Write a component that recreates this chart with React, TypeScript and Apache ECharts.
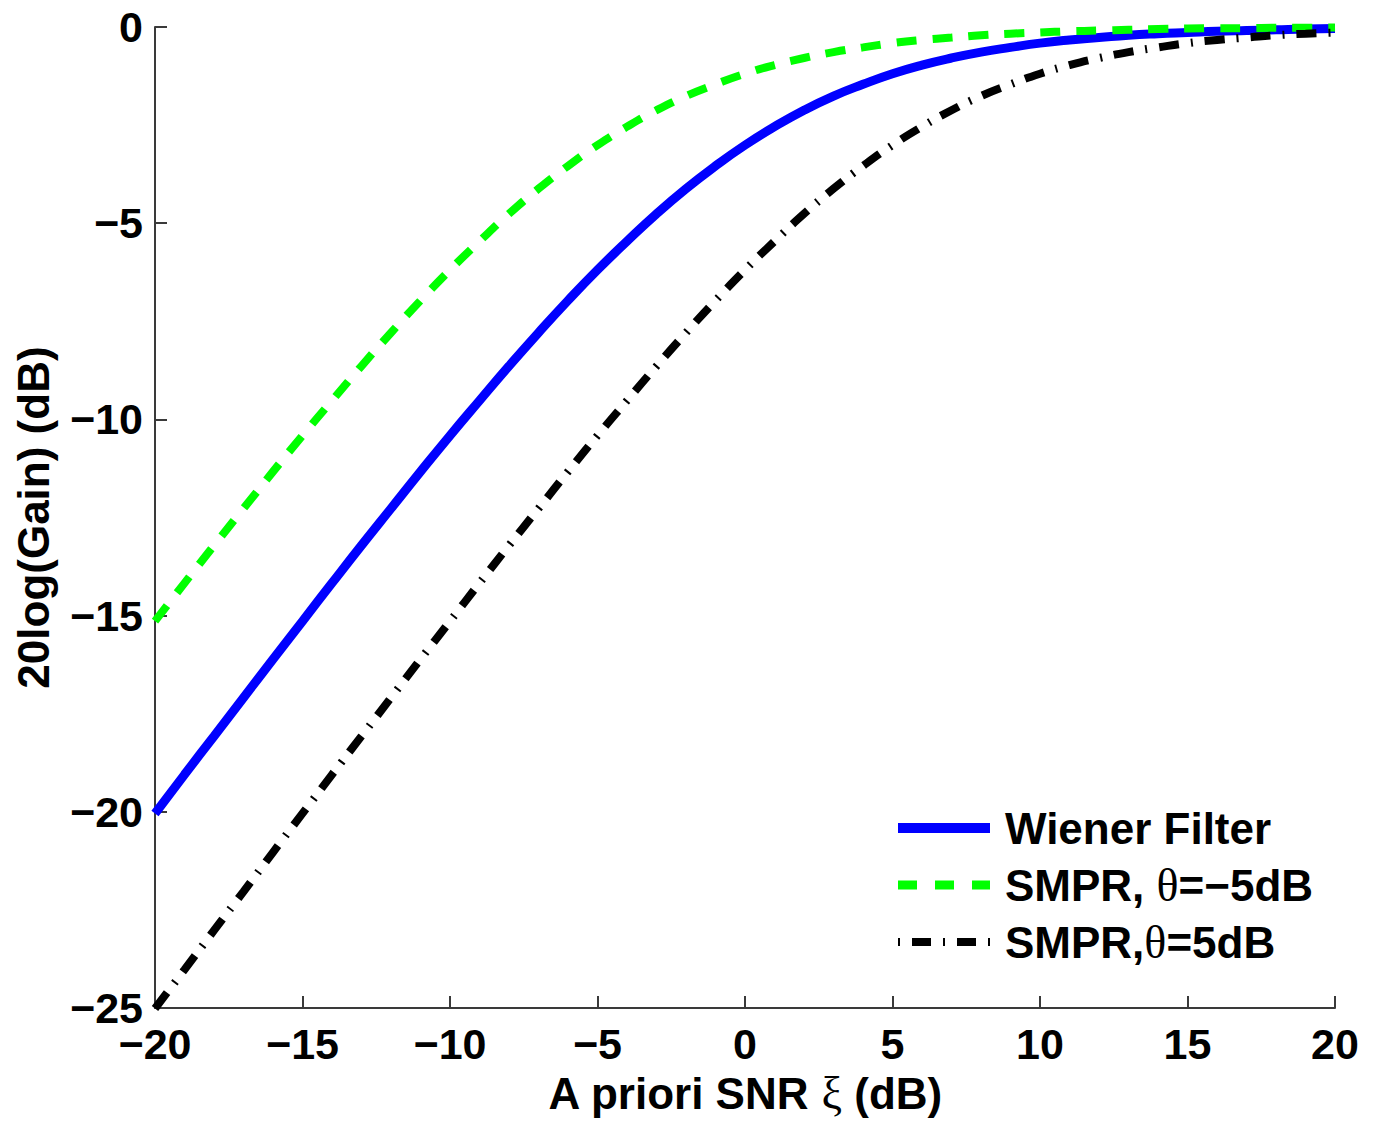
import React, { useEffect, useRef } from "react";
import * as echarts from "echarts";

const snrDb = [-20,-19,-18,-17,-16,-15,-14,-13,-12,-11,-10,-9,-8,-7,-6,-5,-4,-3,-2,-1,0,1,2,3,4,5,6,7,8,9,10,11,12,13,14,15,16,17,18,19,20];
const wiener = [-20.04,-19.05,-18.07,-17.09,-16.11,-15.14,-14.17,-13.21,-12.27,-11.33,-10.41,-9.52,-8.64,-7.79,-6.97,-6.19,-5.46,-4.76,-4.12,-3.54,-3.01,-2.54,-2.12,-1.76,-1.46,-1.19,-0.97,-0.79,-0.64,-0.52,-0.41,-0.33,-0.27,-0.21,-0.17,-0.14,-0.11,-0.09,-0.07,-0.05,-0.04];
const smprNeg5 = [-15.14,-14.17,-13.21,-12.27,-11.33,-10.41,-9.52,-8.64,-7.79,-6.97,-6.19,-5.46,-4.76,-4.12,-3.54,-3.01,-2.54,-2.12,-1.76,-1.46,-1.19,-0.97,-0.79,-0.64,-0.52,-0.41,-0.33,-0.27,-0.21,-0.17,-0.14,-0.11,-0.09,-0.07,-0.05,-0.04,-0.03,-0.03,-0.02,-0.02,-0.01];
const smprPos5 = [-25.01,-24.02,-23.02,-22.03,-21.03,-20.04,-19.05,-18.07,-17.09,-16.11,-15.14,-14.17,-13.21,-12.27,-11.33,-10.41,-9.52,-8.64,-7.79,-6.97,-6.19,-5.46,-4.76,-4.12,-3.54,-3.01,-2.54,-2.12,-1.76,-1.46,-1.19,-0.97,-0.79,-0.64,-0.52,-0.41,-0.33,-0.27,-0.21,-0.17,-0.14];
const seriesNames = ["Wiener Filter", "SMPR, θ=−5dB", "SMPR,θ=5dB"];
const xTitle = "A priori SNR {g|ξ} (dB)";
const yTitle = "20log(Gain) (dB)";

const FONT = "'Liberation Sans', Arial, sans-serif";
const SERIF = "'Liberation Serif', 'DejaVu Serif', serif";

const seriesStyles = [
  { color: "#0000ff", width: 9, type: "solid" as any, legendDash: null as number[] | null, legendWidth: 10 },
  { color: "#00ff00", width: 8, type: [20, 16], legendDash: [19, 18], legendWidth: 9 },
  { color: "#000000", width: 8, type: [20, 12, 2, 12], legendDash: [2, 12, 19, 12], legendWidth: 8 },
];

export default function App() {
  const ref = useRef<HTMLDivElement>(null);
  useEffect(() => {
    if (!ref.current) return;
    const chart = echarts.init(ref.current, undefined, { renderer: "svg" });
    const pairs = (ys: number[]) => snrDb.map((x, i) => [x, ys[i]]);
    const minus = (v: number) => String(v).replace("-", "\u2212");
    const axisLine = { show: true, onZero: false, lineStyle: { color: "#3a3a3a", width: 2 } };
    const axisTick = { show: true, inside: true, length: 12, lineStyle: { color: "#3a3a3a", width: 2 } };
    const labelStyle = { color: "#000", fontFamily: FONT, fontWeight: "bold" as const, fontSize: 43 };

    const legendX = 898;
    const legendY0 = 828;
    const legendStep = 57;
    const legendGraphics: any[] = [];
    seriesNames.forEach((name, i) => {
      const st = seriesStyles[i];
      const y = legendY0 + i * legendStep;
      legendGraphics.push({
        type: "line",
        shape: { x1: legendX, y1: y, x2: legendX + 92, y2: y },
        style: {
          stroke: st.color,
          lineWidth: st.legendWidth,
          lineDash: st.legendDash || undefined,
          lineCap: "butt",
        },
        z: 10,
      });
      legendGraphics.push({
        type: "text",
        left: legendX + 107,
        top: y - 26,
        style: {
          text: name.replace("θ", "{t|θ}"),
          fill: "#000",
          font: `bold 44px ${FONT}`,
          fontFamily: FONT,
          fontWeight: "bold",
          fontSize: 44,
          lineHeight: 52,
          rich: { t: { fontFamily: SERIF, fontWeight: "normal", fontSize: 46, fill: "#000" } },
        },
        z: 10,
      });
    });

    chart.setOption({
      animation: false,
      backgroundColor: "#fff",
      grid: { left: 155, top: 27, right: 43, bottom: 111, containLabel: false },
      xAxis: {
        type: "value",
        min: -20,
        max: 20,
        interval: 5,
        axisLine,
        axisTick,
        splitLine: { show: false },
        axisLabel: { ...labelStyle, margin: 14, formatter: minus, showMinLabel: true, showMaxLabel: true },
        name: xTitle,
        nameLocation: "middle",
        nameGap: 58,
        nameTextStyle: {
          ...labelStyle,
          fontSize: 44,
          rich: { g: { fontFamily: SERIF, fontWeight: "normal", fontSize: 46, color: "#000" } },
        },
      },
      yAxis: {
        type: "value",
        min: -25,
        max: 0,
        interval: 5,
        axisLine,
        axisTick,
        splitLine: { show: false },
        axisLabel: { ...labelStyle, margin: 12, formatter: minus, showMinLabel: true, showMaxLabel: true },
        name: yTitle,
        nameLocation: "middle",
        nameGap: 100,
        nameRotate: 90,
        nameTextStyle: { ...labelStyle, fontSize: 44 },
      },
      graphic: legendGraphics,
      series: [wiener, smprNeg5, smprPos5].map((ys, i) => ({
        name: seriesNames[i],
        type: "line",
        data: pairs(ys),
        smooth: true,
        showSymbol: false,
        symbol: "none",
        lineStyle: { color: seriesStyles[i].color, width: seriesStyles[i].width, type: seriesStyles[i].type },
        itemStyle: { color: seriesStyles[i].color },
        z: 3 + i,
      })),
    });
    return () => chart.dispose();
  }, []);
  return (
    <div
      ref={ref}
      style={{ position: "absolute", left: 0, top: 0, width: 1378, height: 1121, background: "#fff" }}
    />
  );
}
